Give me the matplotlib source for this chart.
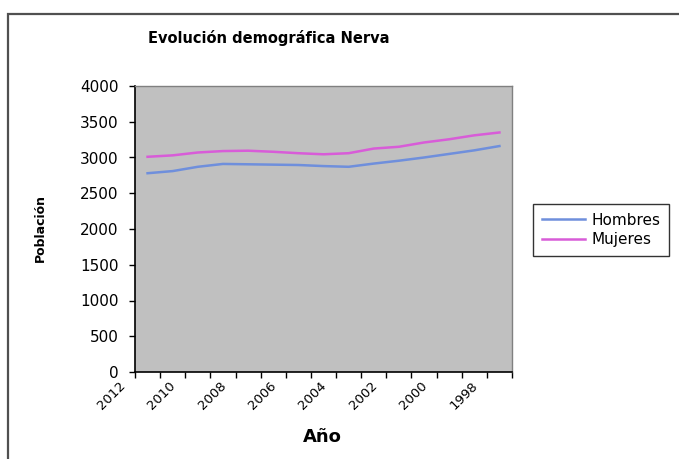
import matplotlib
matplotlib.use("Agg")
import matplotlib.pyplot as plt
import matplotlib.transforms as mtransforms
from matplotlib.patches import Rectangle

# Population of Nerva by year (most recent first)
years = [2012, 2011, 2010, 2009, 2008, 2007, 2006, 2005, 2004, 2003, 2002, 2001, 2000, 1999, 1998]
hombres = [2780, 2810, 2870, 2910, 2905, 2900, 2895, 2880, 2870, 2915, 2955, 3000, 3050, 3100, 3160]
mujeres = [3010, 3030, 3070, 3090, 3095, 3080, 3060, 3045, 3060, 3125, 3150, 3210, 3255, 3310, 3350]
series_names = ["Hombres", "Mujeres"]
y_ticks = [0, 500, 1000, 1500, 2000, 2500, 3000, 3500, 4000]

W, H = 679, 459
fig = plt.figure(figsize=(W / 100, H / 100), dpi=100)
fig.patch.set_facecolor("white")

# Chart-area frame
fig.patches.append(Rectangle((8 / W, -0.02), 1.1, 1 - 14 / H + 0.02,
                             transform=fig.transFigure, fill=False,
                             edgecolor="#505050", linewidth=1.6, clip_on=False))

ax = fig.add_axes([135 / W, 1 - 372 / H, (512 - 135) / W, (372 - 86) / H])
ax.set_facecolor("#C0C0C0")

x = list(range(len(years)))
l1, = ax.plot(x, hombres, color="#6F8FDC", linewidth=1.8, label=series_names[0])
l2, = ax.plot(x, mujeres, color="#D85CD8", linewidth=1.8, label=series_names[1])

ax.set_xlim(-0.5, len(years) - 0.5)
ax.set_ylim(0, 4000)

# Y axis
ax.set_yticks(y_ticks)
ax.set_yticklabels([str(v) for v in y_ticks], fontsize=11)
ax.tick_params(axis="y", direction="out", length=4, width=1, pad=8, color="black")

# X axis: tick marks between categories, labels every second year
ax.set_xticks([i - 0.5 for i in range(len(years) + 1)])
ax.set_xticklabels([])
ax.tick_params(axis="x", which="major", direction="out", length=4, width=1, color="black")
label_idx = list(range(0, len(years), 2))
ax.set_xticks(label_idx, minor=True)
ax.set_xticklabels([str(years[i]) for i in label_idx], minor=True,
                   rotation=45, ha="right", va="center", rotation_mode="anchor",
                   fontsize=9.5)
ax.tick_params(axis="x", which="minor", length=0, pad=0)
offset = mtransforms.ScaledTranslation(-24 / 100, -12 / 100, fig.dpi_scale_trans)
for lbl in ax.get_xticklabels(minor=True):
    lbl.set_transform(lbl.get_transform() + offset)

for side in ("top", "right"):
    ax.spines[side].set_color("#808080")
    ax.spines[side].set_linewidth(1.0)
for side in ("left", "bottom"):
    ax.spines[side].set_color("black")
    ax.spines[side].set_linewidth(1.2)

fig.text(269 / W, 1 - 38 / H, "Evolución demográfica Nerva", ha="center", va="center",
         fontsize=10.5, fontweight="bold")
fig.text(40 / W, 1 - 228 / H, "Población", ha="center", va="center", rotation=90,
         fontsize=9, fontweight="bold")
fig.text(322 / W, 1 - 437 / H, "Año", ha="center", va="center",
         fontsize=13, fontweight="bold")

leg = fig.legend(handles=[l1, l2], loc="center left",
                 bbox_to_anchor=(533 / W, 1 - 230 / H), frameon=True,
                 fancybox=False, fontsize=11, handlelength=2.8,
                 handletextpad=0.4, borderpad=0.6, labelspacing=0.3,
                 borderaxespad=0)
leg.get_frame().set_edgecolor("black")
leg.get_frame().set_linewidth(1.0)

fig.savefig("out.png", dpi=100)
